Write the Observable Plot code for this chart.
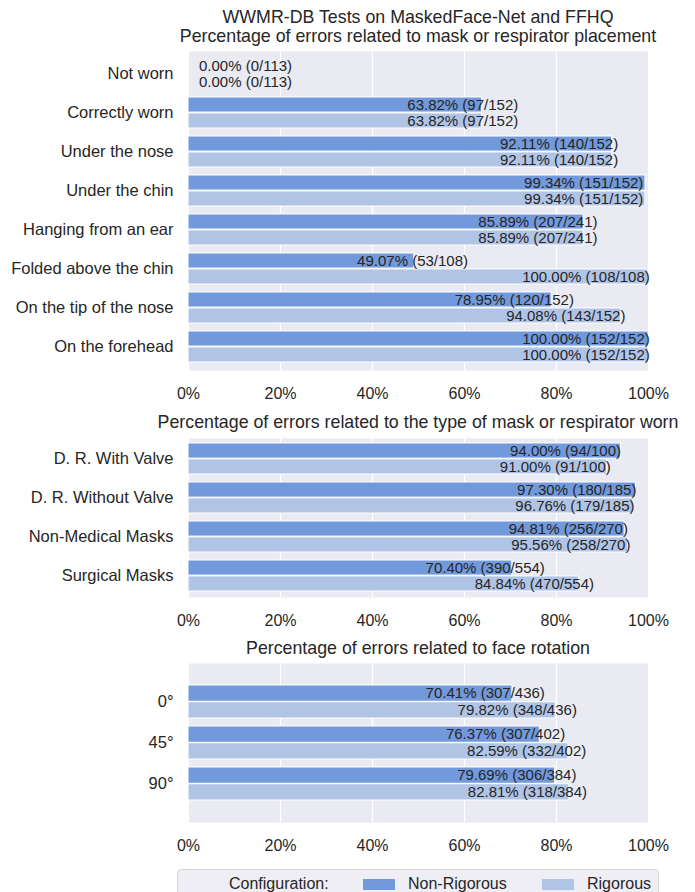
<!DOCTYPE html>
<html>
<head>
<meta charset="utf-8">
<script src="https://cdn.jsdelivr.net/npm/d3@7"></script>
<script src="https://cdn.jsdelivr.net/npm/@observablehq/plot@0.6"></script>
<style>
  html, body { margin: 0; padding: 0; background: #ffffff; }
  body { font-family: "Liberation Sans", Arial, sans-serif; color: #262626; }
  #root { position: relative; width: 695px; height: 892px; overflow: hidden; }
  .title { position: absolute; left: 0; width: 836px; text-align: center; font-size: 17.8px; line-height: 20px; white-space: nowrap; color: #262626; }
  .panel { position: absolute; left: 0; }
  .legend { position: absolute; left: 177px; top: 869px; width: 482px; height: 40px; box-sizing: border-box;
            border: 1px solid #d6d6d6; border-radius: 4px; background: #eeeef4; }
  .legend span { position: absolute; font-size: 16px; line-height: 20px; top: 4px; white-space: nowrap; color: #262626; }
  .legend i { position: absolute; top: 9px; width: 32px; height: 11px; }
</style>
</head>
<body>
<div id="root"></div>
<script>
// ---------- data ----------
const seriesNames = ["Non-Rigorous", "Rigorous"];
const seriesColors = ["#7199db", "#b0c4e6"];
const xTicks = [0, 20, 40, 60, 80, 100];

const placementCategories = ["Not worn", "Correctly worn", "Under the nose", "Under the chin",
  "Hanging from an ear", "Folded above the chin", "On the tip of the nose", "On the forehead"];
const placementNonRigorous = [0.00, 63.82, 92.11, 99.34, 85.89, 49.07, 78.95, 100.00];
const placementRigorous = [0.00, 63.82, 92.11, 99.34, 85.89, 100.00, 94.08, 100.00];
const placementNonRigorousCounts = ["0/113", "97/152", "140/152", "151/152", "207/241", "53/108", "120/152", "152/152"];
const placementRigorousCounts = ["0/113", "97/152", "140/152", "151/152", "207/241", "108/108", "143/152", "152/152"];

const typeCategories = ["D. R. With Valve", "D. R. Without Valve", "Non-Medical Masks", "Surgical Masks"];
const typeNonRigorous = [94.00, 97.30, 94.81, 70.40];
const typeRigorous = [91.00, 96.76, 95.56, 84.84];
const typeNonRigorousCounts = ["94/100", "180/185", "256/270", "390/554"];
const typeRigorousCounts = ["91/100", "179/185", "258/270", "470/554"];

const rotationCategories = ["0°", "45°", "90°"];
const rotationNonRigorous = [70.41, 76.37, 79.69];
const rotationRigorous = [79.82, 82.59, 82.81];
const rotationNonRigorousCounts = ["307/436", "307/402", "306/384"];
const rotationRigorousCounts = ["348/436", "332/402", "318/384"];

const mainTitle = "WWMR-DB Tests on MaskedFace-Net and FFHQ";
const panelTitles = [
  "Percentage of errors related to mask or respirator placement",
  "Percentage of errors related to the type of mask or respirator worn",
  "Percentage of errors related to face rotation"
];
const legendTitle = "Configuration:";

// ---------- layout ----------
const root = document.getElementById("root");
function addTitle(text, top) {
  const d = document.createElement("div");
  d.className = "title";
  d.style.top = top + "px";
  d.textContent = text;
  root.appendChild(d);
}

function makePanel(cats, nr, r, nrC, rC, top, plotHeight, paddingOuter) {
  const marginTop = 5, marginBottom = 42;
  const n = cats.length;
  const step = plotHeight / (n - 0.2 + 2 * paddingOuter);
  const half = 0.8 * step / 2;
  const rows = [];
  cats.forEach((c, i) => {
    rows.push({cat: c, series: seriesNames[0], v: nr[i], label: `${nr[i].toFixed(2)}% (${nrC[i]})`});
    rows.push({cat: c, series: seriesNames[1], v: r[i], label: `${r[i].toFixed(2)}% (${rC[i]})`});
  });
  const nrRows = rows.filter(d => d.series === seriesNames[0]);
  const rRows = rows.filter(d => d.series === seriesNames[1]);
  const svg = Plot.plot({
    width: 695,
    height: marginTop + plotHeight + marginBottom,
    marginLeft: 188, marginRight: 47, marginTop, marginBottom,
    style: {fontFamily: "'Liberation Sans', Arial, sans-serif", color: "#262626", background: "transparent", overflow: "visible"},
    x: {domain: [0, 100]},
    y: {domain: cats, paddingInner: 0.2, paddingOuter, align: 0.5},
    color: {domain: seriesNames, range: seriesColors},
    marks: [
      Plot.frame({fill: "#eaeaf2"}),
      Plot.gridX(xTicks, {stroke: "white", strokeOpacity: 1, strokeWidth: 1.2}),
      Plot.barX(nrRows.filter(d => d.v > 0), {x: "v", y: "cat", fill: "series", stroke: "white", strokeWidth: 1, insetBottom: half}),
      Plot.barX(rRows.filter(d => d.v > 0), {x: "v", y: "cat", fill: "series", stroke: "white", strokeWidth: 1, insetTop: half}),
      Plot.text(nrRows, {x: d => 12.4 + 0.74 * d.v, y: "cat", dy: -half / 2, text: "label", fontSize: 15, fill: "#262626", textAnchor: "middle"}),
      Plot.text(rRows, {x: d => 12.4 + 0.74 * d.v, y: "cat", dy: half / 2, text: "label", fontSize: 15, fill: "#262626", textAnchor: "middle"}),
      Plot.axisX(xTicks, {anchor: "bottom", tickSize: 0, tickPadding: 17, tickFormat: d => d + "%", fontSize: 16, label: null}),
      Plot.axisY({anchor: "left", tickSize: 0, tickPadding: 15, fontSize: 16.5, label: null})
    ]
  });
  const wrap = document.createElement("div");
  wrap.className = "panel";
  wrap.style.top = top + "px";
  wrap.appendChild(svg);
  root.appendChild(wrap);
}

addTitle(mainTitle, 7);
addTitle(panelTitles[0], 26);
makePanel(placementCategories, placementNonRigorous, placementRigorous,
  placementNonRigorousCounts, placementRigorousCounts, 46, 319, 0.1);

addTitle(panelTitles[1], 412);
makePanel(typeCategories, typeNonRigorous, typeRigorous,
  typeNonRigorousCounts, typeRigorousCounts, 433, 159, 0.1);

addTitle(panelTitles[2], 638);
makePanel(rotationCategories, rotationNonRigorous, rotationRigorous,
  rotationNonRigorousCounts, rotationRigorousCounts, 658, 159, 0.5);

// legend
const lg = document.createElement("div");
lg.className = "legend";
const items = [
  {type: "span", text: legendTitle, left: 229},
  {type: "i", color: seriesColors[0], left: 363},
  {type: "span", text: seriesNames[0], left: 408},
  {type: "i", color: seriesColors[1], left: 542},
  {type: "span", text: seriesNames[1], left: 587}
];
items.forEach(it => {
  const el = document.createElement(it.type);
  el.style.left = (it.left - 178) + "px";
  if (it.type === "span") el.textContent = it.text;
  else el.style.background = it.color;
  lg.appendChild(el);
});
root.appendChild(lg);
</script>
</body>
</html>
